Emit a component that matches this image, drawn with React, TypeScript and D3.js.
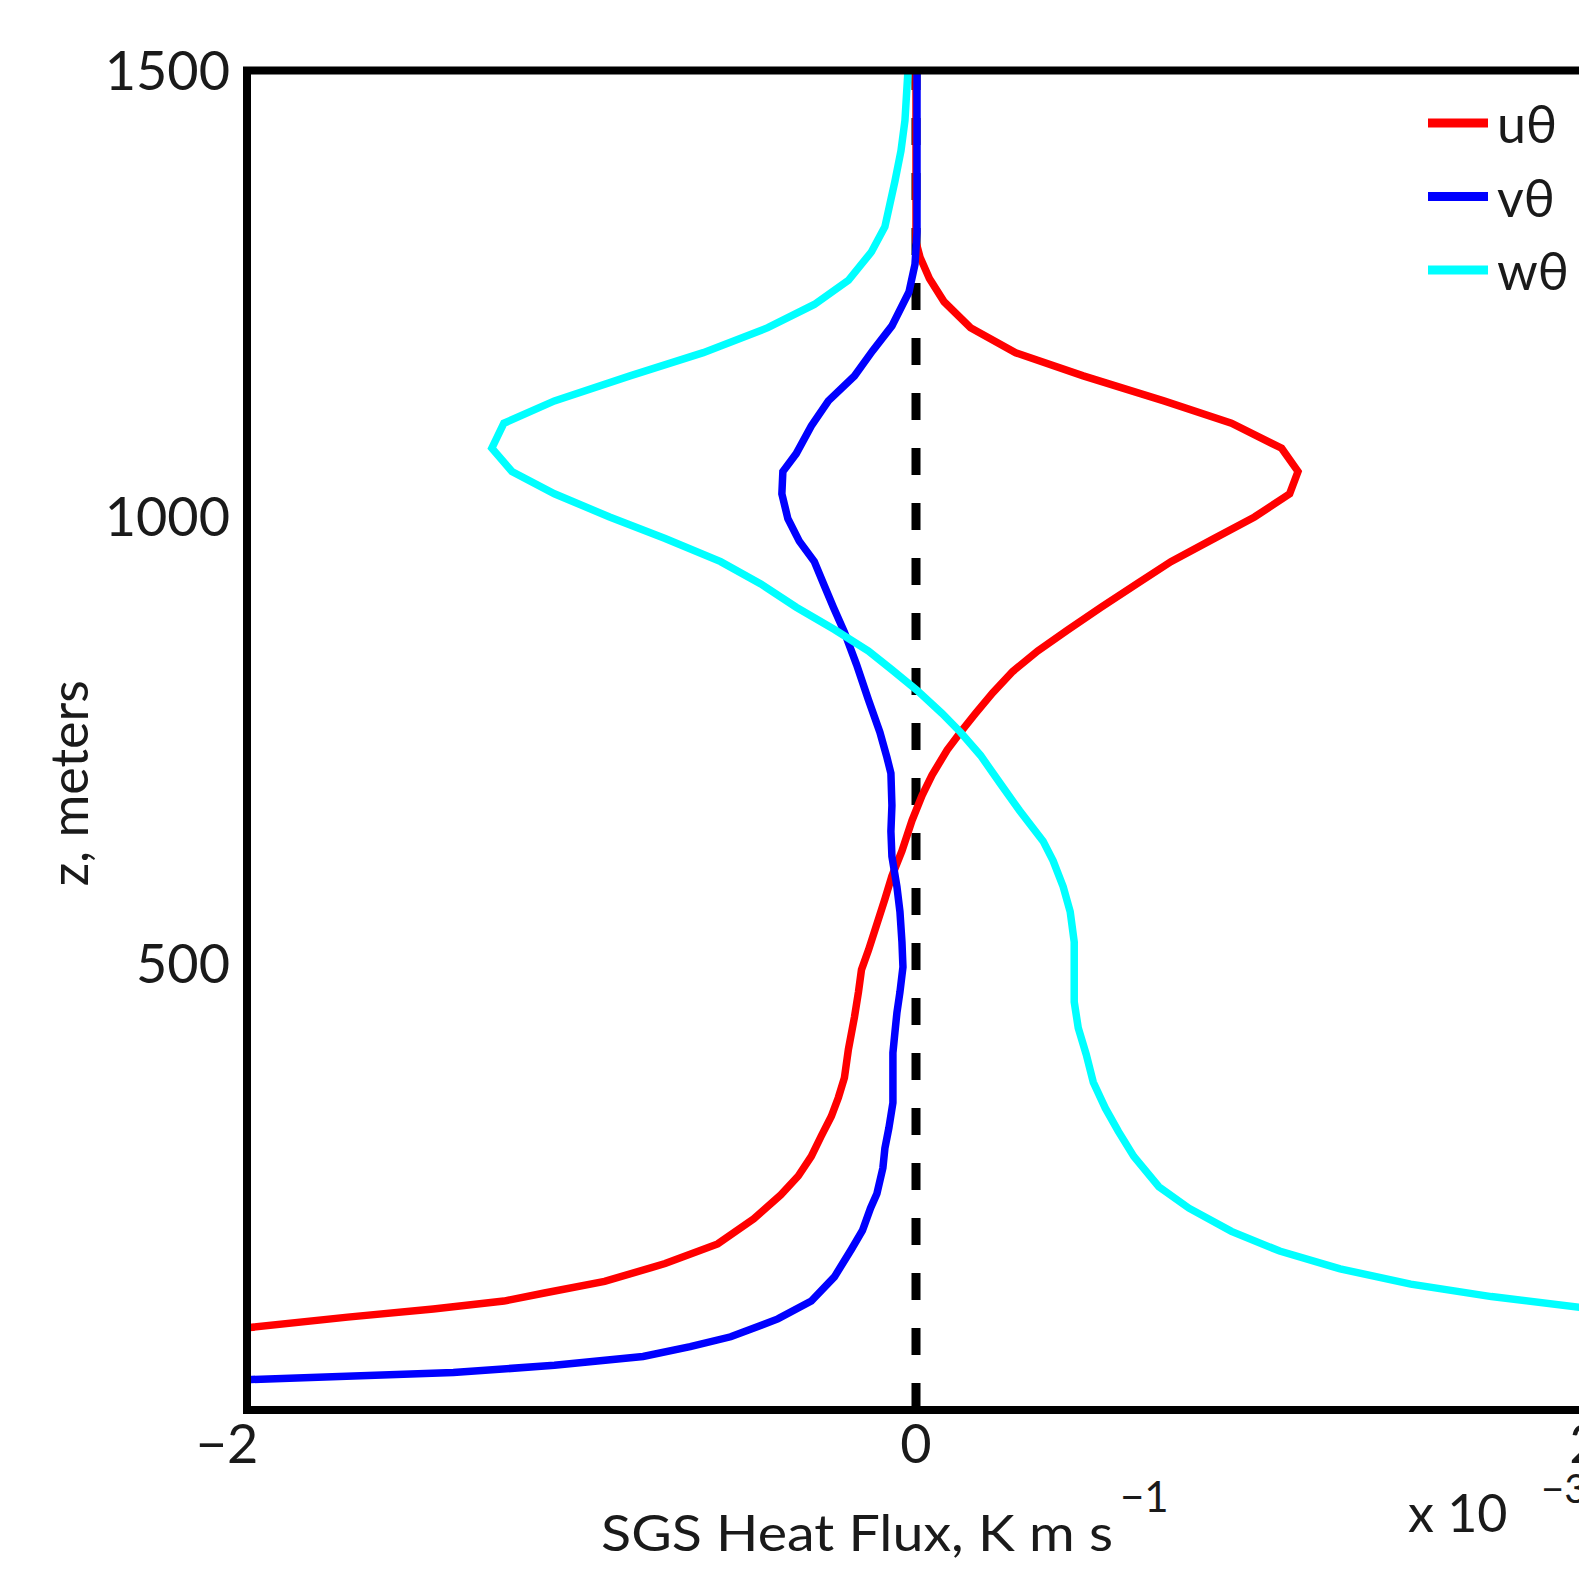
import React from 'react'
import * as d3 from 'd3'

// SGS heat flux profiles, flux in units of 1e-3 K m/s, z in meters
const uTheta: [number, number][] = [
  [0.0, 1500], [0.0, 1308], [0.012, 1291], [0.04, 1267], [0.084, 1241], [0.163, 1212],
  [0.298, 1184], [0.5, 1158], [0.741, 1130], [0.943, 1105], [1.093, 1077], [1.142, 1051],
  [1.117, 1026], [1.012, 1000], [0.892, 976], [0.762, 950], [0.66, 925], [0.554, 899],
  [0.455, 874], [0.364, 850], [0.289, 827], [0.229, 803], [0.178, 780], [0.133, 759],
  [0.093, 739], [0.048, 711], [0.018, 688], [-0.012, 660], [-0.042, 626], [-0.072, 598],
  [-0.093, 572], [-0.117, 544], [-0.142, 515], [-0.163, 493], [-0.172, 468], [-0.184, 440],
  [-0.202, 404], [-0.214, 372], [-0.232, 350], [-0.253, 329], [-0.283, 307], [-0.313, 284],
  [-0.352, 262], [-0.404, 241], [-0.485, 214], [-0.593, 186], [-0.75, 164], [-0.931, 144],
  [-1.111, 131], [-1.232, 122], [-1.443, 113], [-1.699, 104], [-2.0, 92]
]

const vTheta: [number, number][] = [
  [0.003, 1500], [0.003, 1319], [-0.003, 1283], [-0.021, 1252], [-0.072, 1214], [-0.13, 1186],
  [-0.184, 1158], [-0.262, 1130], [-0.313, 1102], [-0.358, 1071], [-0.398, 1051], [-0.401, 1026],
  [-0.383, 998], [-0.349, 973], [-0.304, 950], [-0.274, 923], [-0.247, 899], [-0.214, 871],
  [-0.178, 835], [-0.142, 795], [-0.108, 759], [-0.087, 731], [-0.075, 713], [-0.072, 677],
  [-0.075, 648], [-0.072, 620], [-0.057, 586], [-0.048, 558], [-0.042, 524], [-0.039, 496],
  [-0.048, 468], [-0.057, 445], [-0.063, 423], [-0.069, 400], [-0.069, 367], [-0.069, 344],
  [-0.081, 316], [-0.093, 293], [-0.099, 271], [-0.117, 242], [-0.136, 226], [-0.16, 201],
  [-0.193, 180], [-0.244, 149], [-0.313, 122], [-0.413, 102], [-0.554, 82], [-0.675, 71],
  [-0.816, 60], [-1.081, 50], [-1.383, 42], [-2.0, 34]
]

const wTheta: [number, number][] = [
  [-0.024, 1500], [-0.033, 1444], [-0.045, 1410], [-0.063, 1376], [-0.093, 1325], [-0.133, 1297],
  [-0.202, 1265], [-0.304, 1238], [-0.443, 1212], [-0.636, 1184], [-0.855, 1158], [-1.081, 1130],
  [-1.232, 1105], [-1.268, 1077], [-1.208, 1051], [-1.081, 1026], [-0.916, 1000], [-0.75, 976],
  [-0.584, 950], [-0.464, 925], [-0.358, 899], [-0.244, 874], [-0.142, 850], [-0.072, 829],
  [0.003, 806], [0.078, 780], [0.133, 759], [0.193, 733], [0.253, 701], [0.31, 671],
  [0.38, 637], [0.41, 615], [0.44, 586], [0.461, 558], [0.473, 524], [0.473, 457],
  [0.485, 428], [0.509, 398], [0.53, 367], [0.566, 338], [0.605, 312], [0.651, 284],
  [0.726, 250], [0.816, 226], [0.943, 200], [1.087, 178], [1.268, 158], [1.479, 141],
  [1.72, 127], [1.985, 115], [2.0, 114]
]

const seriesNames = ['u\u03B8', 'v\u03B8', 'w\u03B8']
const seriesColors = ['#ff0000', '#0000ff', '#00ffff']
const xTicks = [-2, 0, 2]
const yTicks = [500, 1000, 1500]

const W = 1579
const H = 1572
const FONT = 'Lato, "Noto Sans", sans-serif'

export default function App() {
  const left = 247, right = 1585, top = 70.5, bottom = 1410

  const x = d3.scaleLinear().domain([-2, 2]).range([left, right])
  const y = d3.scaleLinear().domain([0, 1500]).range([bottom, top])

  const line = d3.line<[number, number]>()
    .x(d => x(d[0]))
    .y(d => y(d[1]))

  const series = [uTheta, vTheta, wTheta]

  return (
    <svg width={W} height={H} style={{ position: 'absolute', left: 0, top: 0, background: '#fff' }}>
      <defs>
        <clipPath id="plot">
          <rect x={left} y={top} width={right - left} height={bottom - top} />
        </clipPath>
      </defs>

      {/* zero reference line */}
      <line x1={x(0)} x2={x(0)} y1={y(0)} y2={y(1500)}
        stroke="#000" strokeWidth={9} strokeDasharray="27,28" />

      <g clipPath="url(#plot)">
        {series.map((s, i) => (
          <path key={i} d={line(s) || ''} fill="none" stroke={seriesColors[i]}
            strokeWidth={7.5} strokeLinejoin="miter" />
        ))}
      </g>

      {/* axes box */}
      <rect x={left} y={top} width={right - left} height={bottom - top}
        fill="none" stroke="#000" strokeWidth={8} />

      {/* y tick labels */}
      {yTicks.map(t => (
        <text key={t} x={left - 17} y={y(t)} dy="0.36em" textAnchor="end"
          fontFamily={FONT} fontSize={54} fill="#1a1a1a">{t}</text>
      ))}

      {/* x tick labels */}
      {xTicks.map(t => (
        <text key={t} x={x(t) - (t < 0 ? 20 : 0)} y={1463} textAnchor="middle"
          fontFamily={FONT} fontSize={54} fill="#1a1a1a">{t < 0 ? '\u2212' + Math.abs(t) : t}</text>
      ))}

      {/* axis labels */}
      <text x={601} y={1551} fontFamily={FONT} fontSize={50} fill="#1a1a1a"
        textLength={512} lengthAdjust="spacingAndGlyphs">SGS Heat Flux, K m s</text>
      <text x={1120} y={1512} fontFamily={FONT} fontSize={42} fill="#1a1a1a">{'\u22121'}</text>

      <text x={1408} y={1532} fontFamily={FONT} fontSize={52} fill="#1a1a1a">x 10</text>
      <text x={1541} y={1503} fontFamily={FONT} fontSize={40} fill="#1a1a1a">{'\u22123'}</text>

      <text transform={`translate(88, ${(top + bottom) / 2 + 43}) rotate(-90)`} textAnchor="middle"
        fontFamily={FONT} fontSize={52} fill="#1a1a1a">z, meters</text>

      {/* legend */}
      {seriesNames.map((n, i) => (
        <g key={n} transform={`translate(1428, ${123 + i * 73.5})`}>
          <line x1={0} x2={60} y1={0} y2={0} stroke={seriesColors[i]} strokeWidth={9} />
          <text x={69} y={20} fontFamily={FONT} fontSize={52} fill="#1a1a1a">{n}</text>
        </g>
      ))}
    </svg>
  )
}
